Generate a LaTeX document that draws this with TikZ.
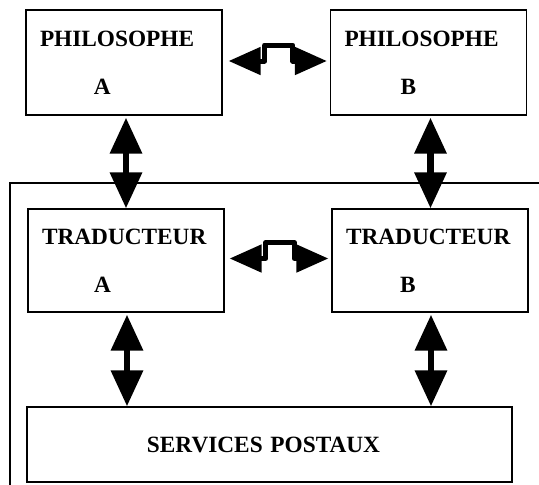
\documentclass[tikz,border=0pt]{standalone}
\usepackage{fontspec}
\setmainfont{Liberation Serif}
\usetikzlibrary{positioning,calc,arrows.meta}

\begin{document}
\begin{tikzpicture}[x=1pt, y=1pt, on grid]
\tikzstyle{every node}=[font=\fontsize{23.3}{48}\selectfont\bfseries]
\tikzstyle{box}=[draw, line width=1.3pt, rectangle, align=left, text width=168pt, inner xsep=14pt, inner ysep=0pt, minimum width=196pt, minimum height=105pt]
\tikzstyle{vlink}=[line width=6.5pt, {Triangle[length=36pt,width=31pt]}-{Triangle[length=36pt,width=31pt]}]
\tikzstyle{hlink}=[line width=5pt, line join=round, {Triangle[length=32pt,width=27pt]}-{Triangle[length=32pt,width=27pt]}]
\useasboundingbox (0,0) rectangle (539,-485);
\draw[line width=1.3pt] (539,-183) -| (10,-485);
   \node[box](pa) at (124,-62.5) {PHILOSOPHE\\\hspace*{54pt}A};
   \node[box](pb) [right=304.5pt of pa] {PHILOSOPHE\\\hspace*{56pt}B};
   \node[box, minimum height=103pt](ta) [below right=198pt and 2pt of pa] {TRADUCTEUR\\\hspace*{52pt}A};
   \node[box, minimum height=103pt](tb) [right=304pt of ta] {TRADUCTEUR\\\hspace*{54pt}B};
   \node[box, minimum width=485pt, minimum height=75pt, text width=457pt](sp) [below right=184pt and 143.5pt of ta] {\hspace*{106pt}SERVICES POSTAUX};
   \draw[hlink] ($(pa.east)+(6,1.5)$) -- ++(36,0) -- ++(0,16) -| ($(pb.west)+(-37,1.5)$) -- ($(pb.west)+(-3,1.5)$);
   \draw[hlink] ($(ta.east)+(5,2)$) -- ++(36,0) -- ++(0,16) -| ($(tb.west)+(-37,2)$) -- ($(tb.west)+(-3,2)$);
   \draw[vlink] ($(pa.south)+(2,-2)$) -- ($(pa.south |- ta.north)+(2,0)$);
   \draw[vlink] ($(pb.south)+(2,-2)$) -- ($(pb.south |- tb.north)+(2,0)$);
\draw[vlink] ($(ta.south)+(1,-2)$) -- ($(ta.south |- sp.north)+(1,0)$);
\draw[vlink] ($(tb.south)+(1,-2)$) -- ($(tb.south |- sp.north)+(1,0)$);
\end{tikzpicture}
\end{document}
